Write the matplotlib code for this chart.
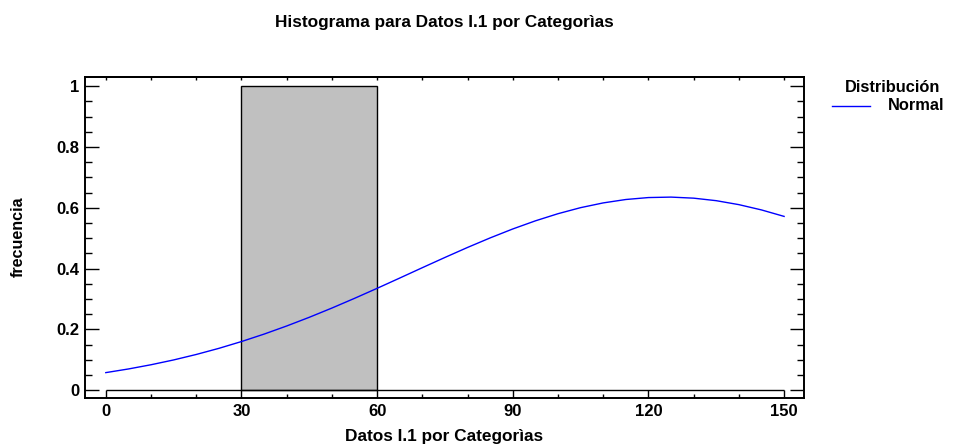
import matplotlib
matplotlib.use("Agg")
import matplotlib.pyplot as plt
from matplotlib.lines import Line2D
from matplotlib.ticker import MultipleLocator

plt.rcParams['font.family'] = ['Liberation Sans', 'DejaVu Sans']
plt.rcParams['font.weight'] = 'bold'

# Histogram data: one class interval with its frequency
bin_edges = [30, 60]
bin_counts = [1]

# Fitted normal distribution curve
curve_x = [0, 5, 10, 15, 20, 25, 30, 35, 40, 45, 50, 55, 60, 65, 70, 75,
           80, 85, 90, 95, 100, 105, 110, 115, 120, 125, 130, 135, 140, 145, 150]
curve_y = [0.0575, 0.0695, 0.0834, 0.0992, 0.1172, 0.1373, 0.1597, 0.1842,
           0.2109, 0.2395, 0.2699, 0.3018, 0.3348, 0.3686, 0.4027, 0.4364,
           0.4693, 0.5007, 0.5301, 0.5568, 0.5803, 0.6002, 0.6158, 0.6270,
           0.6334, 0.6349, 0.6314, 0.6231, 0.6101, 0.5927, 0.5714]

x_ticks = [0, 30, 60, 90, 120, 150]
y_ticks = [0, 0.2, 0.4, 0.6, 0.8, 1]
y_tick_labels = ['0', '0.2', '0.4', '0.6', '0.8', '1']

title = "Histograma para Datos I.1 por Categorìas"
x_label = "Datos I.1 por Categorìas"
y_label = "frecuencia"
legend_title = "Distribución"
legend_entry = "Normal"

W, H = 954, 446
fig = plt.figure(figsize=(W / 100, H / 100), dpi=100)
ax = fig.add_axes([85 / W, 1 - 398 / H, (804 - 85) / W, (398 - 77) / H])

# Bars
for i, c in enumerate(bin_counts):
    left, right = bin_edges[i], bin_edges[i + 1]
    ax.bar((left + right) / 2, c, width=right - left, color='#c0c0c0',
           edgecolor='black', linewidth=1.0, zorder=2)

# Baseline
ax.hlines(0, curve_x[0], curve_x[-1], color='black', linewidth=1.0, zorder=3)

# Normal curve
ax.plot(curve_x, curve_y, color='#0000ff', linewidth=1.0, zorder=4)

ax.set_xlim(-4.6, 154.4)
ax.set_ylim(-0.026, 1.03)

for s in ax.spines.values():
    s.set_linewidth(1.4)

ax.set_xticks(x_ticks)
ax.set_xticklabels([str(v) for v in x_ticks])
ax.xaxis.set_minor_locator(MultipleLocator(10))
ax.set_yticks(y_ticks)
ax.set_yticklabels(y_tick_labels)
ax.yaxis.set_minor_locator(MultipleLocator(0.05))

ax.tick_params(axis='x', which='major', direction='in', length=6, width=1,
               labelsize=12, pad=4, top=False)
ax.tick_params(axis='x', which='minor', direction='in', length=3, width=1, top=False)
ax.tick_params(axis='y', which='major', direction='in', length=10, width=1,
               labelsize=12, right=True, pad=4)
ax.tick_params(axis='y', which='minor', direction='in', length=5, width=1, right=True)

# Short ticks along the top edge
top = ax.secondary_xaxis('top')
top.set_xticks(x_ticks)
top.xaxis.set_minor_locator(MultipleLocator(10))
top.tick_params(which='both', direction='in', length=2.5, width=1, labeltop=False)
top.spines['top'].set_linewidth(1.4)

for lbl in ax.get_xticklabels() + ax.get_yticklabels():
    lbl.set_fontweight('bold')

# Titles and axis labels
fig.text(444 / W, 1 - 22 / H, title, ha='center', va='center',
         fontsize=12.4, fontweight='bold')
fig.text(444 / W, 1 - 437 / H, x_label, ha='center', va='center',
         fontsize=12.4, fontweight='bold')
fig.text(18 / W, 1 - 237 / H, y_label, ha='center', va='center',
         rotation=90, fontsize=11.6, fontweight='bold')

# Legend
fig.text(893 / W, 1 - 87 / H, legend_title, ha='center', va='center',
         fontsize=11.8, fontweight='bold')
fig.add_artist(Line2D([832 / W, 870 / W], [1 - 106 / H, 1 - 106 / H],
                      color='#0000ff', linewidth=1.0, transform=fig.transFigure))
fig.text(944 / W, 1 - 106 / H, legend_entry, ha='right', va='center',
         fontsize=11.8, fontweight='bold')

fig.savefig("out.png", dpi=100)
